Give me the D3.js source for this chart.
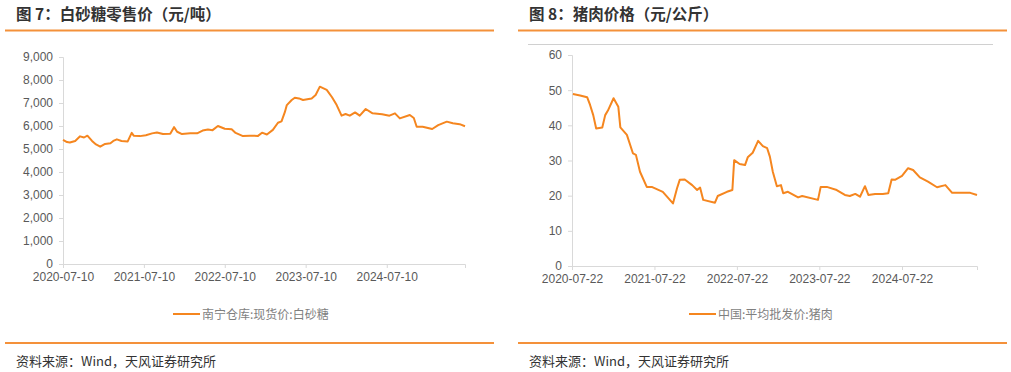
<!DOCTYPE html>
<html>
<head>
<meta charset="utf-8">
<title>白砂糖 / 猪肉价格</title>
<script src="https://d3js.org/d3.v7.min.js"></script>
<style>
body { margin: 0; background: #fff; }
text { font-family: "Liberation Sans", Arial, "Noto Sans CJK SC", sans-serif; }
.cn { font-family: "Noto Sans CJK SC", sans-serif; }
</style>
</head>
<body>
<div id="chart"></div>
<script>
// 南宁仓库:现货价:白砂糖 (元/吨)
var sugarDates = ["2020-07-10","2020-07-28","2020-08-10","2020-09-03","2020-09-25","2020-10-13","2020-10-28","2020-11-18","2020-12-06","2020-12-25",
  "2021-01-16","2021-02-09","2021-02-22","2021-03-10","2021-03-31","2021-04-28","2021-05-16","2021-05-25","2021-06-22","2021-07-19",
  "2021-08-16","2021-09-07","2021-10-04","2021-11-06","2021-11-23","2021-12-07","2021-12-29","2022-02-04","2022-03-07","2022-04-01",
  "2022-04-25","2022-05-16","2022-06-09","2022-07-10","2022-08-10","2022-08-28","2022-09-30","2022-10-31","2022-12-07","2022-12-25",
  "2023-01-16","2023-02-12","2023-03-07","2023-03-23","2023-04-07","2023-04-16","2023-05-08","2023-05-22","2023-06-10","2023-06-28",
  "2023-08-06","2023-08-24","2023-09-12","2023-10-13","2023-11-06","2023-11-27","2023-12-19","2024-01-06","2024-01-25","2024-02-18",
  "2024-03-10","2024-04-06","2024-05-07","2024-06-19","2024-07-22","2024-08-16","2024-09-07","2024-10-22","2024-11-09","2024-11-22",
  "2024-12-19","2025-01-31","2025-02-27","2025-04-07","2025-05-04","2025-06-04","2025-06-28"];
var sugarValues = [5400,5300,5280,5350,5550,5500,5580,5350,5200,5100,
  5220,5250,5350,5420,5350,5330,5700,5580,5560,5600,
  5680,5720,5650,5660,5950,5750,5650,5680,5680,5800,
  5850,5820,6000,5880,5860,5700,5560,5580,5570,5710,
  5630,5830,6140,6200,6600,6910,7130,7230,7200,7130,
  7200,7350,7710,7570,7250,6910,6450,6520,6450,6590,
  6450,6740,6550,6510,6450,6550,6330,6480,6350,5970,
  5970,5870,6040,6190,6120,6080,5990];

// 中国:平均批发价:猪肉 (元/公斤)
var porkDates = ["2020-07-26","2020-08-27","2020-09-27","2020-10-10","2020-10-24","2020-11-06","2020-12-03","2020-12-16","2020-12-28","2021-01-22",
  "2021-02-12","2021-02-21","2021-03-22","2021-04-18","2021-05-01","2021-05-19","2021-06-18","2021-07-10","2021-08-28","2021-10-12",
  "2021-10-30","2021-11-11","2021-12-03","2022-01-05","2022-01-27","2022-02-09","2022-02-23","2022-04-16","2022-04-28","2022-06-08",
  "2022-07-02","2022-07-10","2022-08-03","2022-08-27","2022-09-08","2022-09-30","2022-10-24","2022-11-14","2022-12-03","2022-12-15",
  "2022-12-28","2023-01-15","2023-02-02","2023-02-12","2023-03-05","2023-04-19","2023-05-07","2023-07-16","2023-07-28","2023-08-24",
  "2023-10-07","2023-11-12","2023-12-04","2023-12-28","2024-01-18","2024-02-09","2024-02-24","2024-03-25","2024-04-28","2024-05-22",
  "2024-06-06","2024-06-21","2024-07-22","2024-08-18","2024-09-09","2024-10-09","2024-11-14","2024-12-24","2025-01-30","2025-03-01",
  "2025-04-04","2025-05-20","2025-06-19"];
var porkValues = [48.9,48.5,48.0,45.8,42.9,39.1,39.4,42.9,44.2,47.7,
  45.3,39.4,37.3,32.0,31.6,26.8,22.5,22.5,21.1,17.8,
  22.1,24.5,24.6,23.0,21.6,22.3,18.8,18.0,19.9,21.1,
  21.6,30.1,29.0,28.7,30.9,32.2,35.6,34.1,33.5,31.1,
  26.8,22.7,23.0,20.7,21.1,19.5,19.9,18.8,22.5,22.5,
  21.6,20.2,19.9,20.5,19.7,22.7,20.2,20.5,20.5,20.7,
  24.6,24.5,25.6,27.8,27.3,25.2,24.0,22.4,23.0,20.8,
  20.8,20.8,20.2];

var sugarTicks = ["2020-07-10","2021-07-10","2022-07-10","2023-07-10","2024-07-10"];
var porkTicks = ["2020-07-22","2021-07-22","2022-07-22","2023-07-22","2024-07-22"];
var sugarY = [0,1000,2000,3000,4000,5000,6000,7000,8000,9000];
var porkY = [0,10,20,30,40,50,60];

var parse = d3.timeParse("%Y-%m-%d");
var orange = "#F5861F";
var W = 1011, H = 372;

var svg = d3.select("#chart").append("svg")
  .attr("width", W).attr("height", H);

function panel(opt) {
  var g = svg.append("g");
  // title
  g.append("text").attr("class", "cn")
    .attr("x", opt.x0 + 11).attr("y", 20)
    .attr("font-size", 15.5).attr("font-weight", "bold").attr("fill", "#333")
    .text(opt.title);
  g.append("line").attr("x1", opt.x0).attr("x2", opt.x0 + 489)
    .attr("y1", 30.5).attr("y2", 30.5)
    .attr("stroke", "#F4913A").attr("stroke-width", 2);
  if (opt.topRule) {
    g.append("line").attr("x1", opt.x0 + 10).attr("x2", opt.x0 + 475)
      .attr("y1", 44.5).attr("y2", 44.5)
      .attr("stroke", "#d0d0d0").attr("stroke-width", 1);
  }

  var data = opt.dates.map(function(d, i) { return {date: parse(d), value: opt.values[i]}; });
  var x = d3.scaleTime()
    .domain([parse(opt.ticks[0]), data[data.length - 1].date])
    .range([opt.left, opt.right]);
  var y = d3.scaleLinear()
    .domain([0, d3.max(opt.yTicks)])
    .range([opt.bottom, opt.top]);

  var yAxis = g.append("g")
    .attr("transform", "translate(" + opt.left + ",0)")
    .call(d3.axisLeft(y).tickValues(opt.yTicks).tickSize(4).tickPadding(6)
      .tickFormat(d3.format(",")));
  var xAxis = g.append("g")
    .attr("transform", "translate(0," + opt.bottom + ")")
    .call(d3.axisBottom(x).tickValues(opt.ticks.map(parse)).tickSize(4).tickPadding(4)
      .tickFormat(d3.timeFormat("%Y-%m-%d")));
  [yAxis, xAxis].forEach(function(a) {
    a.select(".domain").attr("stroke", "#d9d9d9");
    a.selectAll(".tick line").attr("stroke", "#d9d9d9");
    a.selectAll(".tick text").attr("fill", "#595959").attr("font-size", 12)
      .attr("font-family", "Liberation Sans, Arial, sans-serif");
  });

  g.append("path").datum(data)
    .attr("fill", "none").attr("stroke", orange).attr("stroke-width", 2)
    .attr("stroke-linejoin", "round")
    .attr("d", d3.line().x(function(d) { return x(d.date); }).y(function(d) { return y(d.value); }));

  // legend
  g.append("line").attr("x1", opt.legendX).attr("x2", opt.legendX + 27)
    .attr("y1", 314).attr("y2", 314)
    .attr("stroke", orange).attr("stroke-width", 2);
  g.append("text").attr("class", "cn")
    .attr("x", opt.legendX + 29).attr("y", 318.5)
    .attr("font-size", 12).attr("fill", "#7f7f7f")
    .text(opt.legend);

  // footer
  g.append("line").attr("x1", opt.x0).attr("x2", opt.x0 + 489)
    .attr("y1", 343).attr("y2", 343)
    .attr("stroke", "#F4913A").attr("stroke-width", 2);
  g.append("text").attr("class", "cn")
    .attr("x", opt.x0 + 11).attr("y", 366)
    .attr("font-size", 13).attr("fill", "#333")
    .text("资料来源：Wind，天风证券研究所");
}

panel({
  x0: 5, title: "图 7：白砂糖零售价（元/吨）",
  dates: sugarDates, values: sugarValues, ticks: sugarTicks, yTicks: sugarY,
  left: 63, right: 465, top: 57, bottom: 264,
  legendX: 173, legend: "南宁仓库:现货价:白砂糖", topRule: false
});
panel({
  x0: 518, title: "图 8：猪肉价格（元/公斤）",
  dates: porkDates, values: porkValues, ticks: porkTicks, yTicks: porkY,
  left: 572, right: 977, top: 55, bottom: 266,
  legendX: 689, legend: "中国:平均批发价:猪肉", topRule: true
});
</script>
</body>
</html>
